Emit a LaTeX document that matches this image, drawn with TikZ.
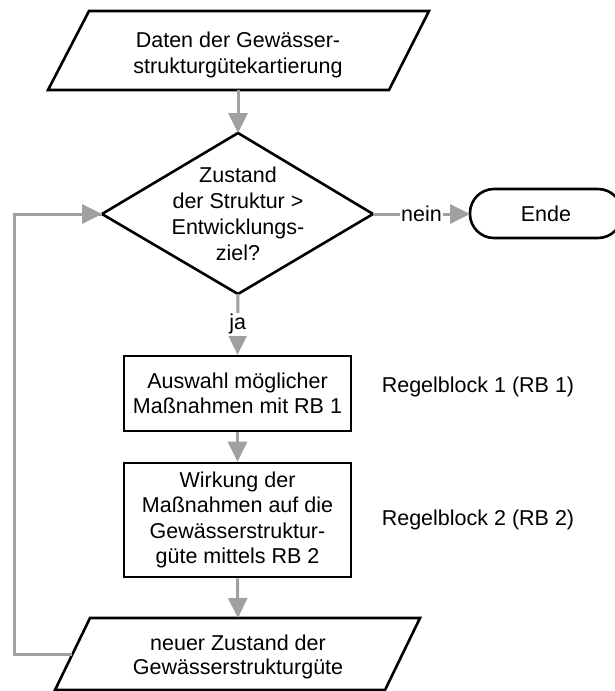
\documentclass[tikz,border=0pt]{standalone}
\usepackage{fontspec}
\setmainfont{Liberation Sans}
\usetikzlibrary{arrows.meta}
\definecolor{conngray}{RGB}{160,160,160}
\begin{document}
\begin{tikzpicture}[x=1pt,y=-1pt,
  outline/.style={draw=black,line width=2.6pt,line join=miter},
  txt/.style={align=center,inner sep=0pt,font=\fontsize{21.5}{25.5}\selectfont},
  conn/.style={draw=conngray,line width=3pt,-{Triangle[length=20pt,width=19pt]}},
  plain/.style={draw=conngray,line width=3pt},
  lbl/.style={fill=white,inner sep=1.5pt,font=\fontsize{21.5}{25.5}\selectfont},
  boxstyle/.style={outline,rectangle,minimum width=227pt,inner sep=0pt,align=center,font=\fontsize{21.5}{25.5}\selectfont}
]
\useasboundingbox (0,0) rectangle (614,691);

% top data parallelogram
\coordinate (dataTop) at (238,11);
\coordinate (dataBot) at (238,90);
\draw[outline] (89,11) -- (429,11) -- (389,90) -- (48,90) -- cycle;
\node[txt] (data) at (238,55) {Daten der Gewässer-\\strukturgütekartierung};

% decision diamond
\coordinate (decT) at (238,133);
\coordinate (decB) at (238,294);
\coordinate (decL) at (102,214);
\coordinate (decR) at (373,214);
\draw[outline] (decT) -- (decR) -- (decB) -- (decL) -- cycle;
\node[txt,font=\fontsize{21.5}{26}\selectfont] (dec) at (238,214) {Zustand\\der Struktur >\\Entwicklungs-\\ziel?};

% Ende
\draw[outline,rounded corners=24pt] (470,189) rectangle (622,238);
\coordinate (endeL) at (470,214);
\node[txt] (ende) at (546,214) {Ende};

% boxes
\node[boxstyle,minimum height=75pt] (box1) at (237.5,393.5) {Auswahl möglicher\\Maßnahmen mit RB 1};
\node[boxstyle,minimum height=114pt] (box2) at (237.5,520) {Wirkung der\\Maßnahmen auf die\\Gewässerstruktur-\\güte mittels RB 2};

\node[txt] (rb1) at (478,387) {Regelblock 1 (RB 1)};
\node[txt] (rb2) at (478,520) {Regelblock 2 (RB 2)};

% bottom parallelogram
\coordinate (newTop) at (238,618);
\coordinate (newL) at (72,654);
\draw[outline] (90,618) -- (420,618) -- (385,690) -- (55,690) -- cycle;
\node[txt,font=\fontsize{21.5}{23.5}\selectfont] (newstate) at (238,657) {neuer Zustand der\\Gewässerstrukturgüte};

% connectors
\draw[conn] (dataBot) -- (decT);
\draw[conn] (decB) -- node[lbl,pos=0.5] (ja) {ja} (box1.north);
\draw[conn] (decR) -- node[lbl,pos=0.5] (nein) {nein} (endeL);
\draw[conn] (box1.south) -- (box2.north);
\draw[conn] (box2.south) -- (newTop);
\coordinate (loopA) at (14,654);
\coordinate (loopB) at (14,214);
\draw[plain] (newL) -- (loopA) -- (loopB) -- (decL);
\draw[conn] (loopB) -- (decL);
\end{tikzpicture}
\end{document}
